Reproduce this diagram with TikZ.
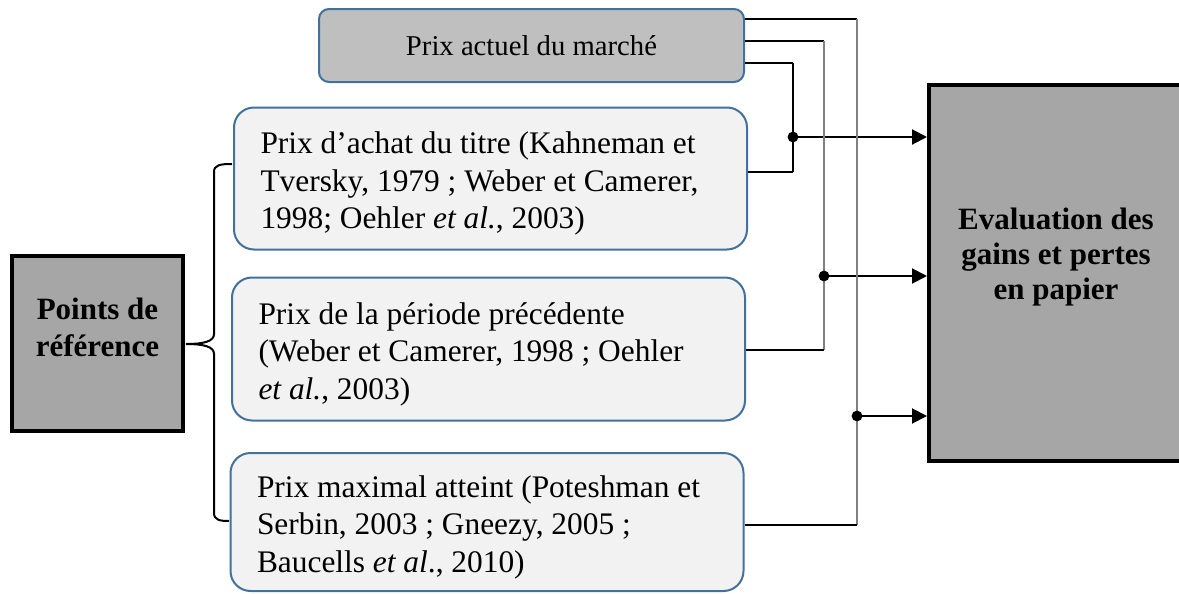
\documentclass[tikz,border=0pt]{standalone}
\usepackage{fontspec}
\setmainfont{Liberation Serif}
\usepackage{xcolor}
\usetikzlibrary{arrows.meta}
\usetikzlibrary{positioning}
\definecolor{boxblue}{HTML}{41719C}
\definecolor{boxgrey}{HTML}{BFBFBF}
\definecolor{boxlight}{HTML}{F2F2F2}
\definecolor{keygrey}{HTML}{A6A6A6}
\definecolor{wiregrey}{HTML}{808080}

\begin{document}
\begin{tikzpicture}[x=0.5pt,y=-0.5pt,
	keybox/.style={draw=black,line width=2pt,fill=keygrey,inner sep=0pt},
	keytext/.style={align=center,font=\fontsize{15.5}{18.5}\selectfont\bfseries},
	topbox/.style={draw=boxblue,line width=1pt,fill=boxgrey,rounded corners=5pt,minimum width=212.5pt,minimum height=36.5pt,font=\fontsize{14.35}{17}\selectfont},
	refbox/.style={draw=boxblue,line width=1pt,fill=boxlight,rounded corners=10pt,text width=230pt,text height=16pt,inner xsep=13.25pt,align=flush left,font=\fontsize{15.7}{18.75}\selectfont},
	wire/.style={line width=0.8pt},
	arr/.style={line width=1pt,-{Triangle[length=7.5pt,width=7.5pt]}}]
	\useasboundingbox (0,0) rectangle (1179,594);
	\clip (0,0) rectangle (1179,594);
	% boxes
	\node[keybox,minimum width=85.5pt,minimum height=87.5pt] (pts) at (97.5,343.5) {};
	\node[keytext] (ptstext) at ([yshift=8pt]pts.center) {Points de\\référence};
	\node[topbox] (marche) at (531.5,45.5) {Prix actuel du marché};
	\node[refbox,minimum height=71pt] (achat) at (490.5,178.5) {Prix d’achat du titre (Kahneman et\\Tversky, 1979 ; Weber et Camerer,\\1998; Oehler \textit{et al.}, 2003)};
	\node[refbox,minimum height=71.5pt] (periode) at (488.5,349) {Prix de la période précédente\\(Weber et Camerer, 1998 ; Oehler\\\textit{et al.}, 2003)};
	\node[refbox,minimum height=69pt] (maximal) at (487,522) {Prix maximal atteint (Poteshman et\\Serbin, 2003 ; Gneezy, 2005 ;\\Baucells \textit{et al}., 2010)};
	\node[keybox,minimum width=127pt,minimum height=188pt] (eval) at (1056,273) {};
	\node[keytext,font=\fontsize{15.5}{17.5}\selectfont\bfseries] (evaltext) at ([yshift=8pt]eval.center) {Evaluation des\\gains et pertes\\en papier};
	% brace
	\draw[line width=1pt] (232,164) .. controls (220,164) and (214,165) .. (214,172) -- (214,334) .. controls (214,341) and (205,344) .. (186,344) .. controls (205,344) and (214,347) .. (214,354) -- (214,513) .. controls (214,520) and (220,521) .. (229,521);
	% connectors
	\coordinate (t1) at (793,63); \coordinate (j1) at (793,137); \coordinate (b1) at (793,172);
	\coordinate (t2) at (824,41); \coordinate (j2) at (824,276); \coordinate (b2) at (824,350);
	\coordinate (t3) at (857,19); \coordinate (j3) at (857,416); \coordinate (b3) at (857,525);
	\foreach \i/\src/\col/\lw in {1/achat/black/0.9pt,2/periode/wiregrey/0.6pt,3/maximal/wiregrey/0.6pt}{
		\draw[wire] (marche.east |- t\i) -- (t\i);
		\draw[line width=\lw,draw=\col] (t\i) -- (b\i);
		\draw[wire] (\src.east |- b\i) -- (b\i);
		\fill (j\i) circle (2.7pt);
		\draw[arr] (j\i) -- (eval.west |- j\i);
	}
\end{tikzpicture}
\end{document}
